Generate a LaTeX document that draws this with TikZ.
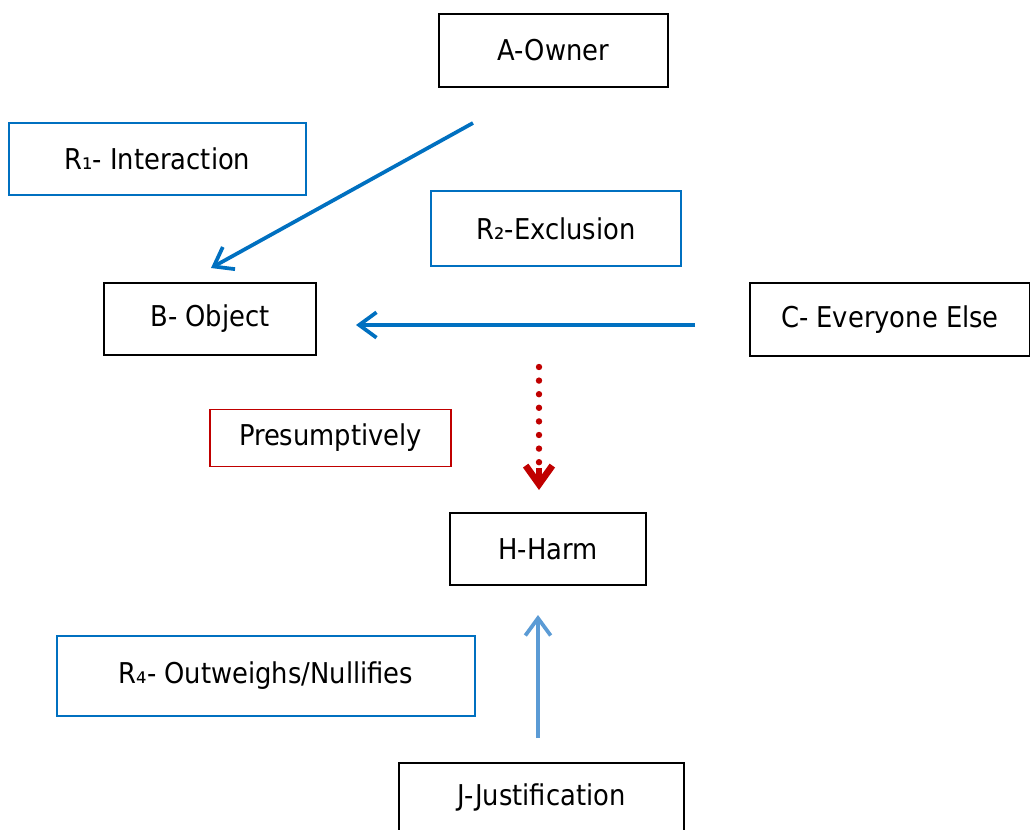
\documentclass[tikz,border=0pt]{standalone}
\usepackage{fontspec}
\setmainfont{DejaVu Sans Condensed}
\usetikzlibrary{arrows.meta,calc}
\definecolor{rblue}{RGB}{0,112,192}
\definecolor{lblue}{RGB}{91,155,213}
\definecolor{rred}{RGB}{192,0,0}
\begin{document}
\begin{tikzpicture}[x=0.75pt,y=-0.75pt,
  lbl/.style={font=\fontsize{21.5}{24}\selectfont},
  box/.style={lbl,draw=black,line width=1.6pt,inner sep=0pt},
  rbox/.style={lbl,draw=rblue,line width=1.4pt,inner sep=0pt},
  pbox/.style={lbl,draw=rred,line width=1.4pt,inner sep=0pt},
  arr/.style={line width=2.8pt,-{Straight Barb[length=13pt,width=19pt,line width=2.8pt]}}]
\useasboundingbox (0,0) rectangle (1030,830);
% entities
\node[box,minimum width=229*0.75pt,minimum height=73*0.75pt] (A) at (553.5,50.5) {A-Owner};
\node[box,minimum width=212*0.75pt,minimum height=72*0.75pt] (B) at (210,319) {B- Object};
\node[box,minimum width=280*0.75pt,minimum height=73*0.75pt] (C) at (890,319.5) {C- Everyone Else};
\node[box,minimum width=196*0.75pt,minimum height=72*0.75pt] (H) at (548,549) {H-Harm};
\node[box,minimum width=285*0.75pt,minimum height=90*0.75pt] (J) at (541.5,808) {};
\node[lbl] (Jt) at (541.5,797) {J-Justification};
% relations
\node[rbox,minimum width=297*0.75pt,minimum height=72*0.75pt] (R1) at (157.5,159) {R₁- Interaction};
\node[rbox,minimum width=250*0.75pt,minimum height=75*0.75pt] (R2) at (556,228.5) {R₂-Exclusion};
\node[pbox,minimum width=241*0.75pt,minimum height=57*0.75pt] (P) at (330.5,438) {Presumptively};
\node[rbox,minimum width=418*0.75pt,minimum height=80*0.75pt] (R4) at (266,676) {R₄- Outweighs/Nullifies};
% connector ends
\coordinate (a1) at (473,123);
\coordinate (b1) at (211,268);
\coordinate (c1) at (695,325);
\coordinate (b2) at (356,325);
\coordinate (h1) at (539,367);
\coordinate (h2) at (539,490);
\coordinate (j1) at (538,738);
\coordinate (h3) at (538,615);
\draw[arr,rblue] (a1) -- (b1);
\draw[arr,rblue] (c1) -- (b2);
\draw[rred,line width=4.8pt,line cap=round,dash pattern=on 0pt off 10.2pt] (h1) -- ($(h2)+(0,-26)$);
\draw[rred,line width=5pt,-{Straight Barb[length=14pt,width=20pt,line width=5pt]}] ($(h2)+(0,-22)$) -- (h2);
\draw[arr,lblue] (j1) -- (h3);
\end{tikzpicture}
\end{document}
